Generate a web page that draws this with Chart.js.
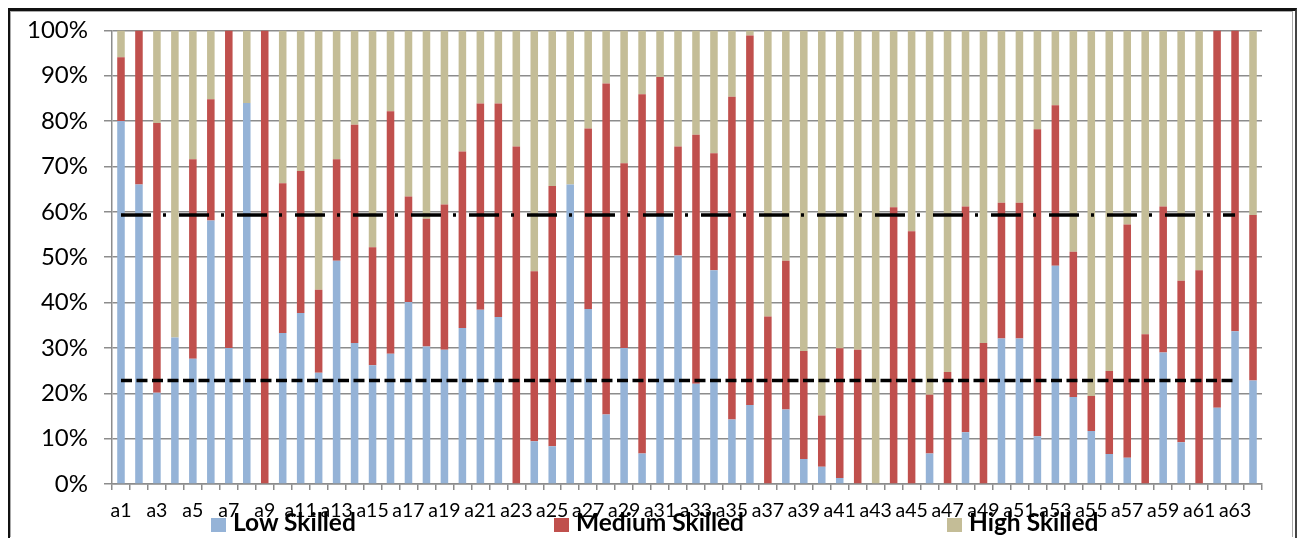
<!DOCTYPE html>
<html>
<head>
<meta charset="utf-8">
<script src="https://cdn.jsdelivr.net/npm/chart.js@4"></script>
<style>
    html, body { margin: 0; padding: 0; background: #fff; width: 1299px; height: 538px; overflow: hidden; }
    #wrap { position: relative; width: 1299px; height: 538px; }
    #chart { position: absolute; left: 0; top: 0; }
    #frame {
        position: absolute; left: 8px; top: 8px; width: 1285px; height: 527px;
        border-top: 3px solid #111; border-left: 2px solid #111; border-right: 2px solid #444;
        border-bottom: 1px solid #999; pointer-events: none;
    }
    #frame2 {
        position: absolute; left: 10px; top: 11px; width: 1281px; height: 525px;
        border: 1px solid #aaa; border-bottom: none; pointer-events: none;
    }
    .leg { position: absolute; top: 510px; font: bold 24.5px Lato, sans-serif; line-height: 24px; color: #000; white-space: nowrap; }
    .leg i { position: absolute; left: -22px; top: 8px; width: 15px; height: 14px; }
</style>
</head>
<body>
<div id="wrap">
    <canvas id="chart" width="1299" height="538"></canvas>
    <div id="frame"></div>
    <div id="frame2"></div>
    <div class="leg" style="left:233px"><i style="background:#95B3D7"></i>Low Skilled</div>
    <div class="leg" style="left:576px"><i style="background:#C0504D"></i>Medium Skilled</div>
    <div class="leg" style="left:969px"><i style="background:#C4BD97"></i>High Skilled</div>
</div>
<script>
const categories = [];
for (let i = 1; i <= 64; i++) categories.push("a" + i);

// % share per area
const lowSkilled = [
    80.0, 66.0, 20.1, 32.3, 27.6, 58.1, 30.0, 84.0, 0, 33.3,
    37.7, 24.5, 49.2, 31.1, 26.2, 28.7, 40.1, 30.3, 29.6, 34.4,
    38.4, 36.8, 0, 9.4, 8.3, 66.0, 38.6, 15.3, 30.0, 6.7,
    59.3, 50.4, 22.1, 47.1, 14.2, 17.4, 0, 16.4, 5.5, 3.8,
    1.3, 0, 0, 0, 0, 6.7, 0, 11.4, 0, 32.1,
    32.1, 10.5, 48.1, 19.2, 11.7, 6.6, 5.8, 0, 29.0, 9.2,
    0, 16.8, 33.7, 22.8
];
const mediumSkilled = [
    14.1, 34.0, 59.5, 0, 44.0, 26.7, 70.0, 0, 100, 33.0,
    31.3, 18.3, 22.4, 48.1, 26.0, 53.5, 23.3, 28.2, 32.0, 38.9,
    45.5, 47.1, 74.4, 37.5, 57.4, 0, 39.8, 73.0, 40.7, 79.2,
    30.4, 24.0, 54.9, 25.8, 71.2, 81.5, 36.9, 32.8, 23.8, 11.3,
    28.6, 29.6, 0, 61.0, 55.7, 13.0, 24.7, 49.8, 31.1, 29.9,
    29.9, 67.7, 35.4, 32.0, 7.7, 18.3, 51.4, 33.0, 32.2, 35.6,
    47.1, 83.2, 66.3, 36.5
];
const highSkilled = [
    5.9, 0, 20.4, 67.7, 28.4, 15.2, 0, 16.0, 0, 33.7,
    31.0, 57.2, 28.4, 20.8, 47.8, 17.8, 36.6, 41.5, 38.4, 26.7,
    16.1, 16.1, 25.6, 53.1, 34.3, 34.0, 21.6, 11.7, 29.3, 14.1,
    10.3, 25.6, 23.0, 27.1, 14.6, 1.1, 63.1, 50.8, 70.7, 84.9,
    70.1, 70.4, 100, 39.0, 44.3, 80.3, 75.3, 38.8, 68.9, 38.0,
    38.0, 21.8, 16.5, 48.8, 80.6, 75.1, 42.8, 67.0, 38.8, 55.2,
    52.9, 0, 0, 40.7
];
// reference lines (averages), drawn from a1 to a63
const avgLow = 22.8;
const avgLowMedium = 59.3;
const yTicks = [0, 10, 20, 30, 40, 50, 60, 70, 80, 90, 100];

const gridGray = "#8c8c8c";
const font = { family: "Lato, sans-serif" };

new Chart(document.getElementById("chart"), {
    data: {
        labels: categories,
        datasets: [
            { type: "bar", label: "Low Skilled", data: lowSkilled, backgroundColor: "#95B3D7", stack: "bars", order: 2 },
            { type: "bar", label: "Medium Skilled", data: mediumSkilled, backgroundColor: "#C0504D", stack: "bars", order: 2 },
            { type: "bar", label: "High Skilled", data: highSkilled, backgroundColor: "#C4BD97", stack: "bars", order: 2 },
            {
                type: "line", label: "upper", stack: "upper", order: 1,
                data: [{ x: "a1", y: avgLowMedium }, { x: "a63", y: avgLowMedium }],
                borderColor: "#000", borderWidth: 3.5, borderDash: [30, 12, 3, 13],
                pointRadius: 0, fill: false, borderCapStyle: "butt"
            },
            {
                type: "line", label: "lower", stack: "lower", order: 1,
                data: [{ x: "a1", y: avgLow }, { x: "a63", y: avgLow }],
                borderColor: "#000", borderWidth: 3.5, borderDash: [11, 4.5],
                pointRadius: 0, fill: false, borderCapStyle: "butt"
            }
        ]
    },
    options: {
        responsive: false,
        animation: false,
        datasets: { bar: { barPercentage: 0.42, categoryPercentage: 1 } },
        layout: { padding: { top: 30, right: 37, bottom: 0, left: 0 } },
        plugins: { legend: { display: false }, tooltip: { enabled: false } },
        scales: {
            x: {
                stacked: true,
                afterFit: s => { s.height = 54; },
                grid: { drawOnChartArea: false, tickLength: 6, color: gridGray, lineWidth: 1.5 },
                border: { color: gridGray, width: 1.5 },
                ticks: {
                    autoSkip: false, maxRotation: 0, padding: 9, color: "#000",
                    font: { ...font, size: 19.5 },
                    callback: (v, i) => (i % 2 === 0 ? categories[i] : "")
                }
            },
            y: {
                stacked: true,
                min: 0, max: 100,
                afterFit: s => { s.width = 112; },
                afterBuildTicks: s => { s.ticks = yTicks.map(v => ({ value: v })); },
                grid: { color: gridGray, lineWidth: 1.5, tickLength: 8 },
                border: { color: gridGray, width: 1.5 },
                ticks: { color: "#000", padding: 16, font: { ...font, size: 24 }, callback: v => v + "%" }
            }
        }
    }
});
</script>
</body>
</html>
